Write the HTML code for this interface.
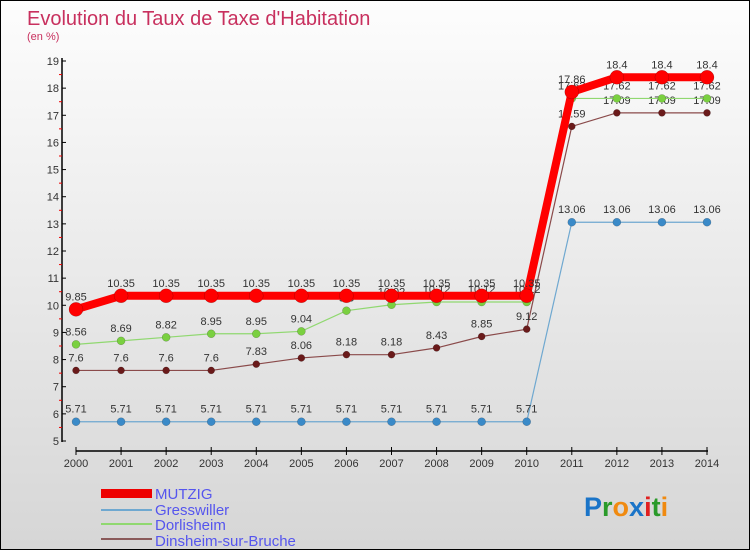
<!DOCTYPE html>
<html><head><meta charset="utf-8"><style>
body{margin:0}
#c{width:750px;height:550px;position:relative;overflow:hidden;box-sizing:border-box;border:1px solid #000;background:linear-gradient(#fdfdfd,#d6d6d6);font-family:"Liberation Sans",sans-serif}
svg text{font-family:"Liberation Sans",sans-serif}
</style></head><body>
<div id="c">
<svg id="s" width="750" height="550">
<text x="26" y="24" font-size="20" fill="#c8305e">Evolution du Taux de Taxe d'Habitation</text>
<text x="26" y="39" font-size="11" fill="#c8305e">(en %)</text>
<g>
<rect x="100" y="488" width="51" height="9" fill="#e00"/>
<text x="154" y="498" font-size="15" fill="#5555ee">MUTZIG</text>
<line x1="100" y1="509" x2="151" y2="509" stroke="#6fa8d0" stroke-width="2"/>
<text x="154" y="514" font-size="15" fill="#5555ee">Gresswiller</text>
<line x1="100" y1="523" x2="151" y2="523" stroke="#90d870" stroke-width="2"/>
<text x="154" y="529" font-size="15" fill="#5555ee">Dorlisheim</text>
<line x1="100" y1="538" x2="151" y2="538" stroke="#8a5a5a" stroke-width="2"/>
<text x="154" y="545" font-size="15" fill="#5555ee">Dinsheim-sur-Bruche</text>
</g>
<g font-size="27" font-weight="bold">
<text x="583" y="515"><tspan fill="#1a74c8">P</tspan><tspan fill="#2a9a2a">r</tspan><tspan fill="#f08a10">o</tspan><tspan fill="#1a74c8">x</tspan><tspan fill="#e02020">i</tspan><tspan fill="#2a9a2a">t</tspan><tspan fill="#f08a10">i</tspan></text>
</g>
</svg>
</div>
<script>
const years=[2000,2001,2002,2003,2004,2005,2006,2007,2008,2009,2010,2011,2012,2013,2014];
const yTicks=[5,6,7,8,9,10,11,12,13,14,15,16,17,18,19];
const mutzig=[9.85,10.35,10.35,10.35,10.35,10.35,10.35,10.35,10.35,10.35,10.35,17.86,18.4,18.4,18.4];
const gresswiller=[5.71,5.71,5.71,5.71,5.71,5.71,5.71,5.71,5.71,5.71,5.71,13.06,13.06,13.06,13.06];
const dorlisheim=[8.56,8.69,8.82,8.95,8.95,9.04,9.8,10.02,10.12,10.12,10.12,17.62,17.62,17.62,17.62];
const dinsheim=[7.6,7.6,7.6,7.6,7.83,8.06,8.18,8.18,8.43,8.85,9.12,16.59,17.09,17.09,17.09];
const NS="http://www.w3.org/2000/svg",s=document.getElementById('s');
const X=i=>75+i*(706-75)/(years.length-1);
const Y=v=>440-(v-5)*(380/14);
function el(t,a,p){const e=document.createElementNS(NS,t);for(const k in a)e.setAttribute(k,a[k]);(p||s).appendChild(e);return e;}
const ax=el('g',{});


el('line',{x1:61,y1:57,x2:61,y2:441,stroke:'#000','stroke-width':1.5},ax);
el('line',{x1:75,y1:450,x2:707,y2:450,stroke:'#000','stroke-width':1.5},ax);
yTicks.forEach(v=>{el('line',{x1:61,y1:Y(v),x2:65,y2:Y(v),stroke:'#000'},ax);
 if(v<19)el('line',{x1:58,y1:Y(v+0.5),x2:61,y2:Y(v+0.5),stroke:'#e00'},ax);
 const t=el('text',{x:58,y:Y(v)+4,'font-size':11,fill:'#333','text-anchor':'end'},ax);t.textContent=v;
 
 });
years.forEach((y,i)=>{el('line',{x1:X(i),y1:446,x2:X(i),y2:454,stroke:'#000'},ax);
 const t=el('text',{x:X(i),y:466,'font-size':11,fill:'#333','text-anchor':'middle'},ax);t.textContent=y;
 
 });
function series(name,data,color,w,r,dot){
 const g=el('g',{});
 
 
 el('polyline',{points:data.map((v,i)=>X(i)+','+Y(v)).join(' '),fill:'none',stroke:color,'stroke-width':w},g);
 data.forEach((v,i)=>{const c=el('circle',{cx:X(i),cy:Y(v),r:r,fill:dot,stroke:'rgba(0,0,0,0.3)','stroke-width':0.5},g);
  
  
  const t=el('text',{x:X(i),y:Y(v)-9,'font-size':11,fill:'#333','text-anchor':'middle'},g);t.textContent=v;
  
  });
}
series('dinsheim',dinsheim,'#8a4a4a',1.2,3.5,'#6a1a1a');
series('gresswiller',gresswiller,'#6fa8d0',1.2,4,'#3a8ac8');
series('dorlisheim',dorlisheim,'#90d870',1.2,4,'#7ad040');
series('mutzig',mutzig,'#f00',8,7,'#f00');
</script>
</body></html>
